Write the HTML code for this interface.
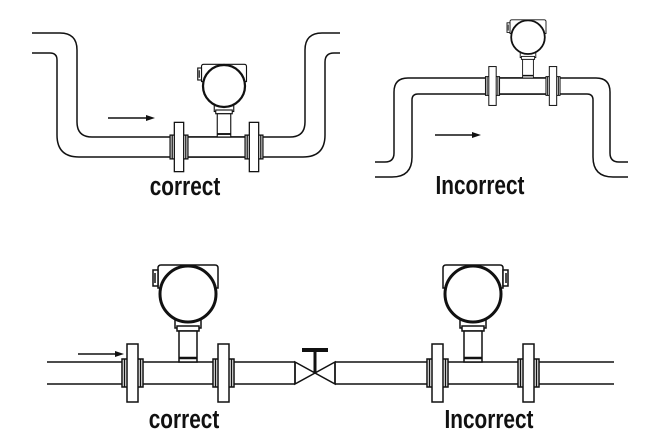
<!DOCTYPE html>
<html><head><meta charset="utf-8"><style>
html,body{margin:0;padding:0;background:#fff;}
svg{display:block;}
text{font-family:"Liberation Sans",sans-serif;font-weight:bold;fill:#111;}
</style></head><body>
<svg width="659" height="447" viewBox="0 0 659 447" xmlns="http://www.w3.org/2000/svg">
<defs>
<g id="meter" fill="#fff" stroke="#111" stroke-width="1.5">
  <path d="M-30,-74 L-30,-94 Q-30,-97 -27,-97 L27,-97 Q30,-97 30,-94 L30,-74 Z"/>
  <rect x="-35" y="-92" width="5" height="16"/>
  <line x1="-33" y1="-89" x2="-33" y2="-79"/>
  <rect x="-13" y="-46" width="26" height="12"/>
  <rect x="-11" y="-36" width="22" height="5"/>
  <rect x="-9" y="-31" width="18" height="31"/>
  <line x1="-9" y1="-4" x2="9" y2="-4" stroke-width="2.5"/>
  <circle cx="0" cy="-68" r="28" stroke-width="3"/>
</g>
<g id="flange" fill="#fff" stroke="#111" stroke-width="1.5">
  <rect x="-10.5" y="-14" width="21" height="28"/>
  <rect x="-5.5" y="-29" width="11" height="58"/>
  <line x1="-8" y1="-14" x2="-8" y2="14"/>
  <line x1="8" y1="-14" x2="8" y2="14"/>
</g>
</defs>

<!-- TOP LEFT -->
<g fill="none" stroke="#111" stroke-width="1.5">
  <path d="M32,33 L60,33 Q77,33 77,50 L77,122 Q77,137 92,137 L290,137 Q305,137 305,122 L305,50 Q305,33 322,33 L340,33"/>
  <path d="M32,53 L50,53 Q57,53 57,60 L57,135 Q57,157 79,157 L303,157 Q325,157 325,135 L325,62 Q325,53 334,53 L340,53"/>
  <line x1="108" y1="118" x2="146" y2="118"/>
</g>
<polygon points="146,115 155,118 146,121" fill="#111"/>
<rect x="186" y="137" width="62" height="20" fill="#fff" stroke="#111" stroke-width="1.5"/>
<use href="#meter" transform="translate(224,137) scale(0.75)"/>
<use href="#flange" transform="translate(179,147) scale(0.85)"/>
<use href="#flange" transform="translate(254,147) scale(0.85)"/>
<text x="185" y="195" font-size="26" text-anchor="middle" transform="translate(185,0) scale(0.8,1) translate(-185,0)">correct</text>

<!-- TOP RIGHT -->
<g fill="none" stroke="#111" stroke-width="1.5">
  <path d="M375,162 L385,162 Q394,162 394,153 L394,92 Q394,78 408,78 L596,78 Q610,78 610,92 L610,153 Q610,162 619,162 L628,162"/>
  <path d="M375,177 L392,177 Q412,177 412,157 L412,100 Q412,94 418,94 L587,94 Q593,94 593,100 L593,157 Q593,177 613,177 L628,177"/>
  <line x1="435" y1="135" x2="472" y2="135"/>
</g>
<polygon points="472,132 481,135 472,138" fill="#111"/>
<rect x="497" y="78" width="51" height="16" fill="#fff" stroke="#111" stroke-width="1.5"/>
<use href="#meter" transform="translate(528,78) scale(0.6)"/>
<use href="#flange" transform="translate(492.5,86) scale(0.67)"/>
<use href="#flange" transform="translate(553,86) scale(0.67)"/>
<text x="480" y="194" font-size="26" text-anchor="middle" transform="translate(480,0) scale(0.8,1) translate(-480,0)">Incorrect</text>

<!-- BOTTOM -->
<g fill="none" stroke="#111" stroke-width="1.5">
  <line x1="47" y1="362" x2="295" y2="362"/>
  <line x1="47" y1="384" x2="295" y2="384"/>
  <line x1="295" y1="362" x2="295" y2="384"/>
  <line x1="335" y1="362" x2="614" y2="362"/>
  <line x1="335" y1="384" x2="614" y2="384"/>
  <line x1="335" y1="362" x2="335" y2="384"/>
  <polygon points="295,362 295,384 315,373"/>
  <polygon points="335,362 335,384 315,373"/>
  <line x1="78" y1="354" x2="115" y2="354"/>
</g>
<polygon points="115,351 124,354 115,357" fill="#111"/>
<line x1="315" y1="351" x2="315" y2="373" stroke="#111" stroke-width="3"/>
<rect x="302" y="348" width="26" height="4" fill="#111"/>
<use href="#meter" transform="translate(188,362)"/>
<use href="#meter" transform="translate(473,362) scale(-1,1)"/>
<use href="#flange" transform="translate(132.5,373)"/>
<use href="#flange" transform="translate(223.5,373)"/>
<use href="#flange" transform="translate(437.5,373)"/>
<use href="#flange" transform="translate(528.5,373)"/>
<text x="184" y="428" font-size="26" text-anchor="middle" transform="translate(184,0) scale(0.8,1) translate(-184,0)">correct</text>
<text x="489" y="428" font-size="26" text-anchor="middle" transform="translate(489,0) scale(0.8,1) translate(-489,0)">Incorrect</text>
</svg>
</body></html>
